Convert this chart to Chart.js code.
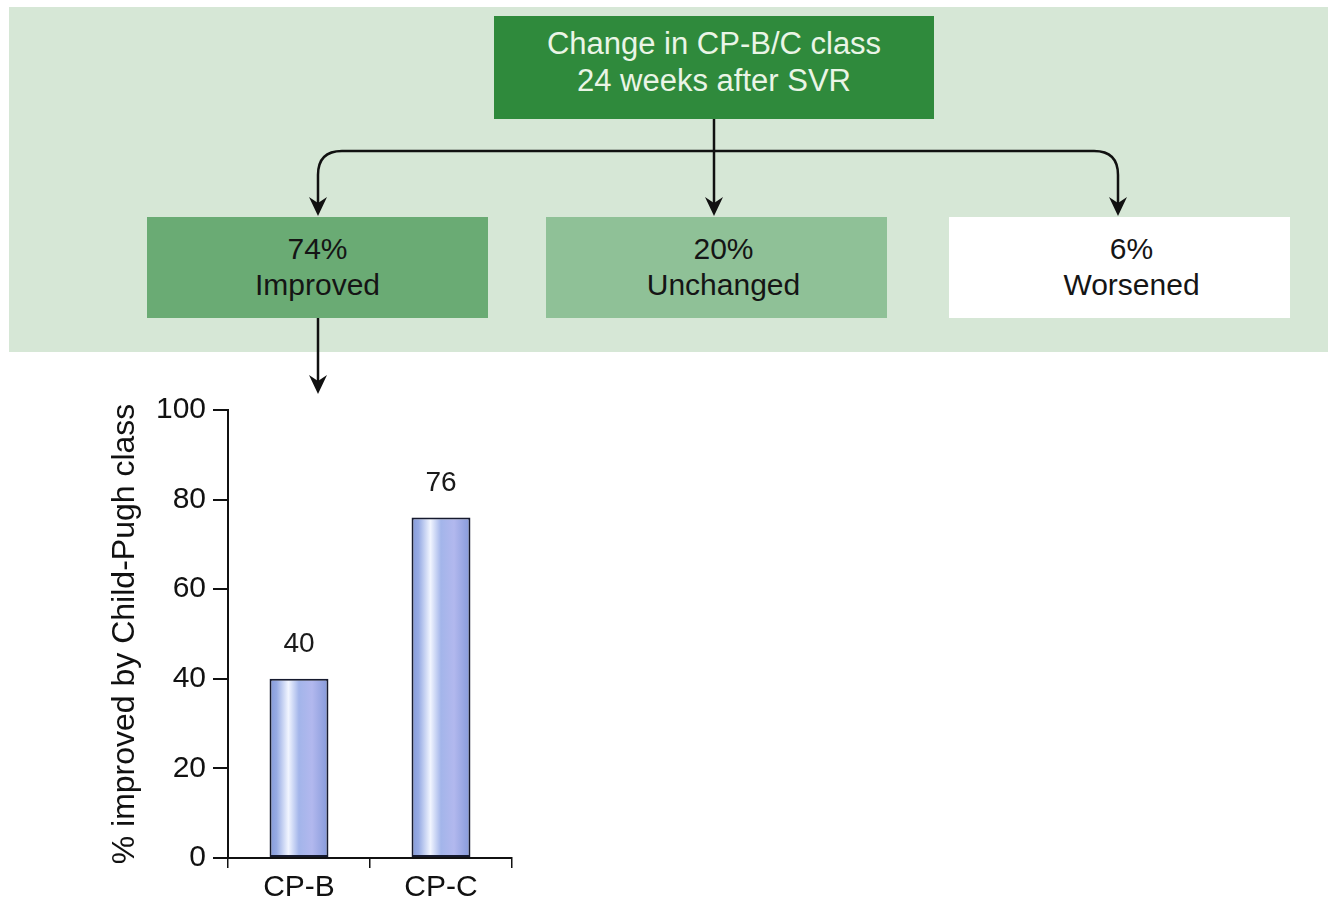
<!DOCTYPE html>
<html>
<head>
<meta charset="utf-8">
<script src="https://cdn.jsdelivr.net/npm/chart.js@4/dist/chart.umd.min.js"></script>
<style>
  html,body{margin:0;padding:0;background:#fff;}
  body{width:1328px;height:903px;position:relative;overflow:hidden;font-family:"Liberation Sans",Arial,sans-serif;}
  .band{position:absolute;left:9px;top:7px;width:1319px;height:345px;background:#d6e7d6;}
  .box{position:absolute;text-align:center;font-size:30px;}
  .box .t{position:absolute;left:0;right:0;}
  #chartWrap{position:absolute;left:0;top:380px;width:560px;height:523px;}
  svg{position:absolute;left:0;top:0;}
</style>
</head>
<body>
<div class="band"></div>
<div id="flow"></div>
<svg width="1328" height="903" viewBox="0 0 1328 903">
  <g fill="none" stroke="#111" stroke-width="2.5">
    <path d="M714 119 V203"/>
    <path d="M318 203 V175 Q318 151 342 151 H1094 Q1118 151 1118 175 V203"/>
    <path d="M318 318 V381"/>
  </g>
  <g fill="#111">
    <path d="M714 216 L705 197 L714 203 L723 197 Z"/>
    <path d="M318 216 L309 197 L318 203 L327 197 Z"/>
    <path d="M1118 216 L1109 197 L1118 203 L1127 197 Z"/>
    <path d="M318 394 L309 375 L318 381 L327 375 Z"/>
  </g>
</svg>
<div id="chartWrap"><canvas id="c" width="560" height="523"></canvas></div>
<script>
// ---- data ----
const flowTitle = ["Change in CP-B/C class", "24 weeks after SVR"];
const outcomeLabels = ["Improved", "Unchanged", "Worsened"];
const outcomePercents = [74, 20, 6];
const categories = ["CP-B", "CP-C"];
const improvedPct = [40, 76];
const yTicks = [0, 20, 40, 60, 80, 100];
const yTitle = "% improved by Child-Pugh class";

// ---- flowchart (HTML text) ----
const flow = document.getElementById('flow');
function addBox(left, top, w, h, bg, color, lines, lineTop, lh, shift, fs){
  const d = document.createElement('div');
  d.className = 'box';
  d.style.cssText = `left:${left}px;top:${top}px;width:${w}px;height:${h}px;background:${bg};color:${color};font-size:${fs}px;`;
  lines.forEach((s,i)=>{
    const t = document.createElement('div');
    t.className='t';
    t.style.top = (lineTop + i*lh) + 'px';
    t.style.lineHeight = lh + 'px';
    t.style.paddingLeft = (shift||0)*2 + 'px';
    t.textContent = s;
    d.appendChild(t);
  });
  flow.appendChild(d);
}
addBox(494, 16, 440, 103, '#2f8a3c', '#eaf5e6', flowTitle, 9, 37, 0, 31);
const boxLefts = [147, 546, 949];
const boxColors = ['#6aab74', '#8fc197', '#ffffff'];
const shifts = [0, 7, 12];
outcomeLabels.forEach((lab,i)=>{
  addBox(boxLefts[i], 217, 341, 101, boxColors[i], '#151515', [outcomePercents[i] + '%', lab], 14, 36, shifts[i], 30);
});

// ---- bar chart ----
const gradCache = {};
function barGradient(context){
  const chart = context.chart;
  const xs = chart.scales.x;
  if (!xs || !chart.chartArea) return '#9aaae4';
  const i = context.dataIndex;
  const cx = xs.getPixelForValue(i);
  const w = (xs.width / categories.length) * 0.415;
  const key = i + '_' + Math.round(cx);
  if (gradCache[key]) return gradCache[key];
  const g = chart.ctx.createLinearGradient(cx - w/2, 0, cx + w/2, 0);
  g.addColorStop(0, '#8398d8');
  g.addColorStop(0.12, '#97abe4');
  g.addColorStop(0.32, '#f1f5ff');
  g.addColorStop(0.5, '#a3b5ea');
  g.addColorStop(0.72, '#b2b8ee');
  g.addColorStop(1, '#8599da');
  gradCache[key] = g;
  return g;
}

const valueLabels = {
  id: 'valueLabels',
  afterDatasetsDraw(chart){
    const ctx = chart.ctx;
    const meta = chart.getDatasetMeta(0);
    ctx.save();
    ctx.font = '28px "Liberation Sans", Arial, sans-serif';
    ctx.fillStyle = '#1a1a1a';
    ctx.textAlign = 'center';
    ctx.textBaseline = 'alphabetic';
    meta.data.forEach((el, i)=>{
      ctx.fillText(String(improvedPct[i]), el.x, el.y - 27);
    });
    ctx.restore();
  }
};

const font30 = {family: '"Liberation Sans", Arial, sans-serif', size: 30};
const font32 = {family: '"Liberation Sans", Arial, sans-serif', size: 32};

new Chart(document.getElementById('c'), {
  type: 'bar',
  data: {
    labels: categories,
    datasets: [{
      data: improvedPct,
      backgroundColor: barGradient,
      borderColor: '#161a2e',
      borderWidth: 2,
      borderSkipped: false,
      categoryPercentage: 1,
      barPercentage: 0.415
    }]
  },
  options: {
    responsive: false,
    animation: false,
    devicePixelRatio: 1,
    layout: {padding: {left: 98, top: 30, right: 48, bottom: 0}},
    plugins: {legend: {display: false}, tooltip: {enabled: false}},
    scales: {
      x: {
        grid: {offset: true, drawOnChartArea: false, drawTicks: true, tickLength: 10, color: '#111', lineWidth: 1.5},
        border: {display: true, color: '#111', width: 2},
        ticks: {font: font30, color: '#111', padding: 2},
        afterFit(scale){ scale.height = 45; }
      },
      y: {
        min: 0, max: 100,
        afterBuildTicks(scale){ scale.ticks = yTicks.map(v=>({value:v})); },
        grid: {drawOnChartArea: false, drawTicks: true, tickLength: 15, color: '#111', lineWidth: 2},
        border: {display: true, color: '#111', width: 2},
        ticks: {font: font30, color: '#111', padding: 7},
        title: {display: true, text: yTitle, font: font32, color: '#111', padding: {top: 8, bottom: 0}},
        afterFit(scale){ scale.width = 130; }
      }
    }
  },
  plugins: [valueLabels]
});
</script>
</body>
</html>
